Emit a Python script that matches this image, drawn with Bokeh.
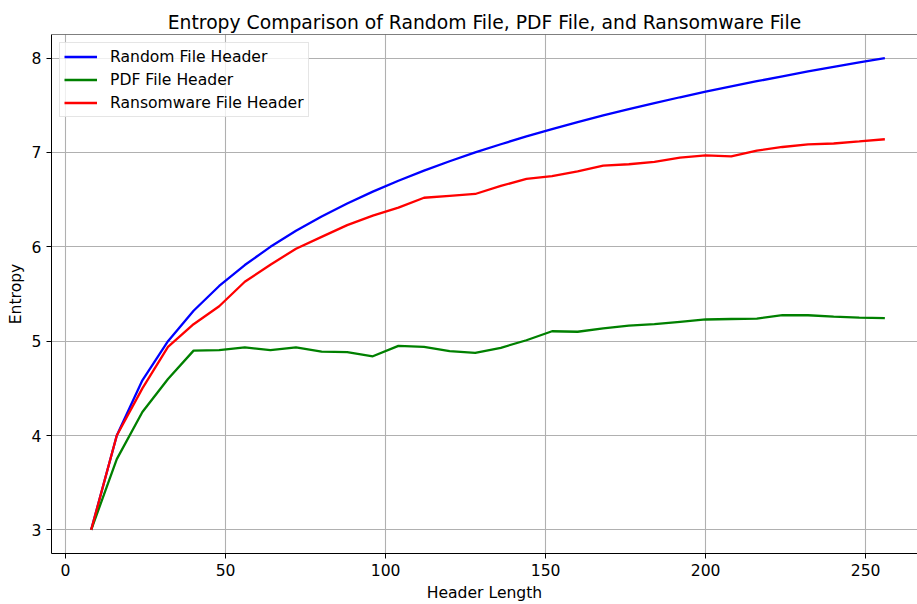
from bokeh.plotting import figure
from bokeh.models import Range1d, FixedTicker, Span, Legend, LegendItem
from bokeh.embed import file_html
from bokeh.resources import INLINE

header_length = [8, 16, 24, 32, 40, 48, 56, 64, 72, 80, 88, 96, 104, 112, 120, 128,
                 136, 144, 152, 160, 168, 176, 184, 192, 200, 208, 216, 224, 232, 240, 248, 256]
random_entropy = [3.0, 4.0, 4.585, 5.0, 5.322, 5.585, 5.807, 6.0, 6.170, 6.322, 6.459, 6.585,
                  6.700, 6.807, 6.907, 7.0, 7.087, 7.170, 7.248, 7.322, 7.392, 7.459, 7.524, 7.585,
                  7.644, 7.700, 7.755, 7.807, 7.858, 7.907, 7.954, 8.0]
pdf_entropy = [3.0, 3.75, 4.25, 4.6, 4.9, 4.905, 4.935, 4.905, 4.935, 4.89, 4.885, 4.84,
               4.95, 4.94, 4.895, 4.875, 4.93, 5.01, 5.105, 5.10, 5.135, 5.165, 5.18, 5.205,
               5.23, 5.235, 5.24, 5.275, 5.275, 5.26, 5.25, 5.245]
ransom_entropy = [3.0, 4.0, 4.5, 4.94, 5.18, 5.37, 5.63, 5.81, 5.98, 6.105, 6.23, 6.33,
                  6.415, 6.52, 6.54, 6.56, 6.645, 6.72, 6.75, 6.8, 6.86, 6.875, 6.9, 6.945,
                  6.97, 6.958, 7.02, 7.058, 7.085, 7.095, 7.117, 7.14]

x_ticks = [0, 50, 100, 150, 200, 250]
y_ticks = [3, 4, 5, 6, 7, 8]
series_labels = ["Random File Header", "PDF File Header", "Ransomware File Header"]
series_colors = ["#0000ff", "#008000", "#ff0000"]

FONT = "DejaVu Sans"
SMALL = "15.6px"

p = figure(width=917, height=604, output_backend="svg", toolbar_location=None,
           x_range=Range1d(-4.4, 266.2), y_range=Range1d(2.75, 8.25),
           min_border_left=51, min_border_right=0, min_border_top=34, min_border_bottom=50,
           title="Entropy Comparison of Random File, PDF File, and Ransomware File")

p.title.align = "center"
p.title.text_font = FONT
p.title.text_font_size = "18.75px"
p.title.text_font_style = "normal"
p.title.text_color = "black"
p.title.standoff = 4
p.title.offset = 4

p.outline_line_color = None
p.background_fill_color = "white"
p.border_fill_color = "white"

for ax in (p.xaxis[0], p.yaxis[0]):
    ax.axis_line_color = "black"
    ax.axis_line_width = 1
    ax.major_tick_line_color = "black"
    ax.major_tick_out = 5
    ax.major_tick_in = 0
    ax.minor_tick_line_color = None
    ax.major_label_text_font = FONT
    ax.major_label_text_font_size = SMALL
    ax.major_label_text_color = "black"
    ax.major_label_standoff = 5
    ax.axis_label_text_font = FONT
    ax.axis_label_text_font_size = SMALL
    ax.axis_label_text_font_style = "normal"
    ax.axis_label_text_color = "black"

p.xaxis[0].ticker = FixedTicker(ticks=x_ticks)
p.yaxis[0].ticker = FixedTicker(ticks=y_ticks)
p.xaxis[0].axis_label = "Header Length"
p.yaxis[0].axis_label = "Entropy"
p.xaxis[0].axis_label_standoff = 5
p.yaxis[0].axis_label_standoff = 4

p.xgrid.ticker = FixedTicker(ticks=x_ticks)
p.ygrid.ticker = FixedTicker(ticks=y_ticks)
for g in (p.xgrid[0], p.ygrid[0]):
    g.grid_line_color = "#b0b0b0"
    g.grid_line_width = 1.1

top_spine = Span(location=8.25, dimension="width", line_color="black", line_width=1)
p.add_layout(top_spine)

series = [random_entropy, pdf_entropy, ransom_entropy]
items = []
for ys, lab, col in zip(series, series_labels, series_colors):
    r = p.line(header_length, ys, line_color=col, line_width=2.3)
    items.append(LegendItem(label=lab, renderers=[r]))

legend = Legend(items=items, location="top_left")
legend.margin = 8
legend.padding = 4
legend.spacing = 4
legend.glyph_width = 33
legend.glyph_height = 19
legend.label_height = 19
legend.label_standoff = 13
legend.label_text_font = FONT
legend.label_text_font_size = SMALL
legend.label_text_color = "black"
legend.border_line_color = "#cccccc"
legend.border_line_width = 1
legend.background_fill_color = "white"
legend.background_fill_alpha = 0.8
p.add_layout(legend)

open("out.html", "w").write(file_html(p, INLINE))
